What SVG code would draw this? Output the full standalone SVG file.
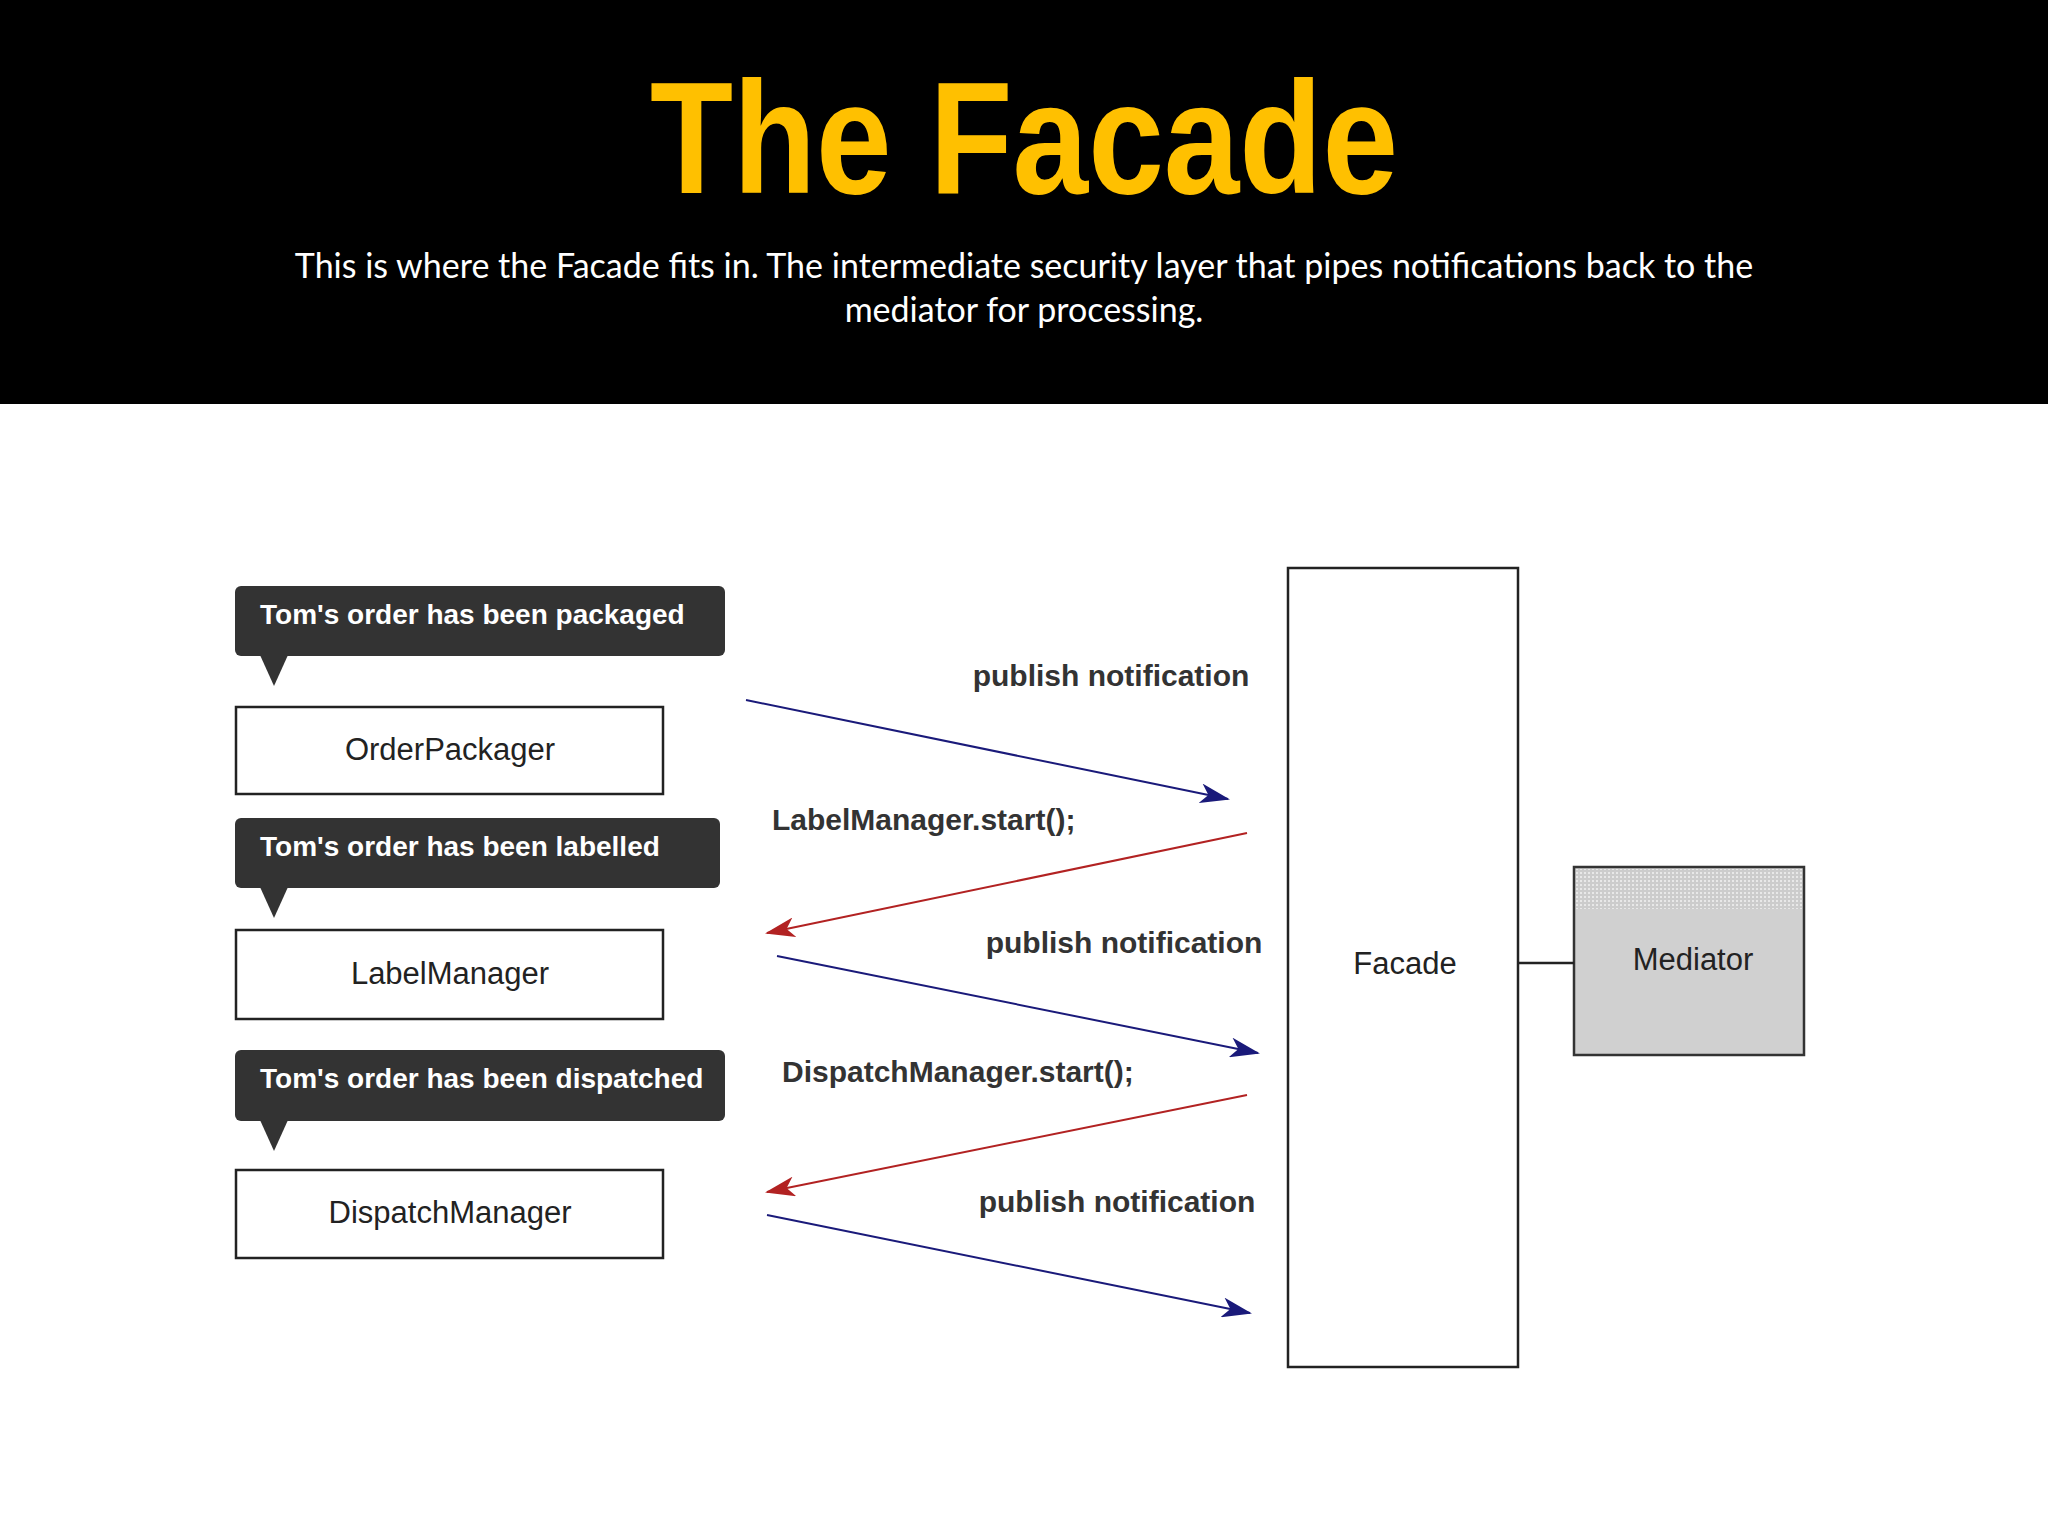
<svg xmlns="http://www.w3.org/2000/svg" width="2048" height="1536" viewBox="0 0 2048 1536">
<style>
.box{fill:#fff;stroke:#222;stroke-width:2.5}
.bub{fill:#333;stroke:none}
.bt{font-family:"Liberation Sans",Arial,sans-serif;font-weight:bold;font-size:28px;fill:#fff}
.nt{font-family:"Liberation Sans",Arial,sans-serif;font-size:31px;fill:#222;text-anchor:middle}
.lt{font-family:"Liberation Sans",Arial,sans-serif;font-weight:bold;font-size:30px;fill:#333}
.blue{stroke:#1a1a7a;stroke-width:2;fill:none;marker-end:url(#ab)}
.red{stroke:#b22222;stroke-width:2;fill:none;marker-end:url(#ar)}
</style>
<defs>
<marker id="ab" markerWidth="30" markerHeight="20" refX="28" refY="10" orient="auto" markerUnits="userSpaceOnUse"><path d="M0,0 L30,10 L0,20 L8,10 Z" fill="#1a1a7a"/></marker>
<marker id="ar" markerWidth="30" markerHeight="20" refX="28" refY="10" orient="auto" markerUnits="userSpaceOnUse"><path d="M0,0 L30,10 L0,20 L8,10 Z" fill="#b22222"/></marker>
<pattern id="dots" width="4" height="4" patternUnits="userSpaceOnUse"><rect width="4" height="4" fill="#ccc"/><rect width="2" height="2" fill="#e8e8e8"/></pattern>
</defs>
<rect width="2048" height="1536" fill="#fff"/>
<rect width="2048" height="404" fill="#000"/>
<text x="1024" y="193" text-anchor="middle" font-family="Liberation Sans,Arial,sans-serif" font-weight="bold" font-size="160" fill="#ffc000" textLength="748" lengthAdjust="spacingAndGlyphs">The Facade</text>
<text x="1024" y="278" text-anchor="middle" font-family="Lato,Liberation Sans,sans-serif" font-size="34" fill="#fff">This is where the Facade fits in. The intermediate security layer that pipes notifications back to the</text>
<text x="1024" y="322" text-anchor="middle" font-family="Lato,Liberation Sans,sans-serif" font-size="34" fill="#fff">mediator for processing.</text>
<g id="bubble1"><rect class="bub" x="235" y="586" width="490" height="70" rx="6"/><path class="bub" d="M260,655 L274,686 L288,655 Z"/><text class="bt" x="260" y="624">Tom's order has been packaged</text></g>
<g id="bubble2"><rect class="bub" x="235" y="818" width="485" height="70" rx="6"/><path class="bub" d="M260,887 L274,918 L288,887 Z"/><text class="bt" x="260" y="856">Tom's order has been labelled</text></g>
<g id="bubble3"><rect class="bub" x="235" y="1050" width="490" height="71" rx="6"/><path class="bub" d="M260,1120 L274,1151 L288,1120 Z"/><text class="bt" x="260" y="1088">Tom's order has been dispatched</text></g>
<g id="orderpackager"><rect class="box" x="236" y="707" width="427" height="87"/><text class="nt" x="450" y="760">OrderPackager</text></g>
<g id="labelmanager"><rect class="box" x="236" y="930" width="427" height="89"/><text class="nt" x="450" y="984">LabelManager</text></g>
<g id="dispatchmanager"><rect class="box" x="236" y="1170" width="427" height="88"/><text class="nt" x="450" y="1223">DispatchManager</text></g>
<g id="facade"><rect class="box" x="1288" y="568" width="230" height="799"/><text class="nt" x="1405" y="974">Facade</text></g>
<g id="mediator"><rect x="1574" y="867" width="230" height="188" fill="#d0d0d0" stroke="#333" stroke-width="2.5"/><rect x="1576" y="869" width="226" height="40" fill="url(#dots)"/><text class="nt" x="1693" y="970">Mediator</text></g>
<g id="connectors">
<line x1="1518" y1="963" x2="1574" y2="963" stroke="#222" stroke-width="2.5"/>
<line class="blue" x1="746" y1="700" x2="1228" y2="799"/>
<line class="red" x1="1247" y1="833" x2="767" y2="933"/>
<line class="blue" x1="777" y1="956" x2="1258" y2="1053"/>
<line class="red" x1="1247" y1="1095" x2="767" y2="1192"/>
<line class="blue" x1="767" y1="1215" x2="1250" y2="1313"/>
<text class="lt" x="1111" y="686" text-anchor="middle">publish notification</text>
<text class="lt" x="772" y="830">LabelManager.start();</text>
<text class="lt" x="1124" y="953" text-anchor="middle">publish notification</text>
<text class="lt" x="782" y="1082">DispatchManager.start();</text>
<text class="lt" x="1117" y="1212" text-anchor="middle">publish notification</text>
</g>
</svg>
